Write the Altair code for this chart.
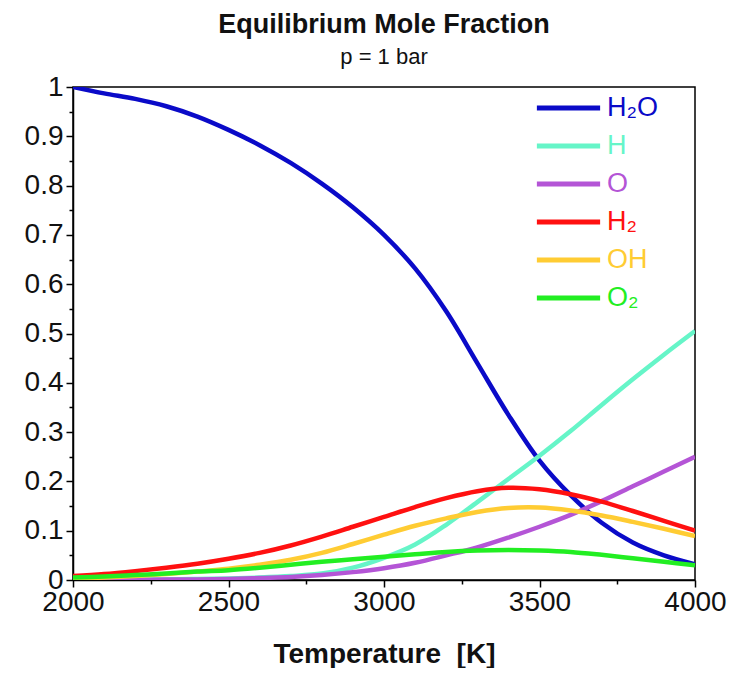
import altair as alt
import pandas as pd

temperature = [2000, 2100, 2200, 2300, 2400, 2500, 2600, 2700, 2800, 2900, 3000,
               3100, 3200, 3300, 3400, 3500, 3600, 3700, 3800, 3900, 4000]

h2o = [1.0, 0.987, 0.976, 0.961, 0.94, 0.913, 0.882, 0.846, 0.804, 0.756, 0.70,
       0.632, 0.545, 0.44, 0.335, 0.242, 0.172, 0.116, 0.076, 0.05, 0.032]
h = [0.0, 0.0, 0.001, 0.001, 0.002, 0.003, 0.005, 0.008, 0.013, 0.025, 0.045,
     0.072, 0.112, 0.158, 0.205, 0.252, 0.302, 0.355, 0.407, 0.457, 0.505]
o = [0.0, 0.0, 0.0, 0.001, 0.001, 0.002, 0.004, 0.006, 0.01, 0.016, 0.024,
     0.035, 0.05, 0.066, 0.086, 0.108, 0.132, 0.16, 0.19, 0.22, 0.25]
h2 = [0.008, 0.012, 0.018, 0.025, 0.033, 0.043, 0.055, 0.07, 0.088, 0.108, 0.128,
      0.148, 0.166, 0.18, 0.187, 0.184, 0.174, 0.159, 0.14, 0.12, 0.10]
oh = [0.003, 0.005, 0.008, 0.012, 0.017, 0.023, 0.031, 0.041, 0.055, 0.073, 0.092,
      0.11, 0.125, 0.138, 0.146, 0.147, 0.141, 0.131, 0.118, 0.104, 0.089]
o2 = [0.005, 0.007, 0.01, 0.013, 0.017, 0.02, 0.025, 0.031, 0.037, 0.042, 0.047,
      0.052, 0.057, 0.06, 0.061, 0.06, 0.057, 0.051, 0.044, 0.037, 0.03]

species = ["H\u2082O", "H", "O", "H\u2082", "OH", "O\u2082"]
colors = ["#0a0ac8", "#66f5c8", "#b455d6", "#ff1010", "#ffcc33", "#22ee22"]
series = [h2o, h, o, h2, oh, o2]

rows = []
for name, vals in zip(species, series):
    for t, v in zip(temperature, vals):
        rows.append({"T": t, "x": v, "species": name})
df = pd.DataFrame(rows)

y_ticks = [round(i * 0.05, 2) for i in range(21)]
x_ticks = [2000 + 250 * i for i in range(9)]

font = "Liberation Sans"
txt = "#111111"

chart = alt.Chart(df).mark_line(strokeWidth=4.5, interpolate="catmull-rom", clip=True).encode(
    x=alt.X("T:Q",
            scale=alt.Scale(domain=[2000, 4000], nice=False, zero=False),
            axis=alt.Axis(title="Temperature\u00a0\u00a0[K]", values=x_ticks,
                          labelExpr="datum.value % 500 == 0 ? datum.value : ''",
                          tickSize={"condition": {"test": "datum.value % 500 == 0", "value": 7}, "value": 4},
                          labelFlush=False, labelOverlap=False, grid=False,
                          labelFontSize=28, labelFont=font, labelColor=txt,
                          labelPadding=1,
                          titleFontSize=28, titleFont=font, titleFontWeight="bold",
                          titlePadding=24, titleColor=txt,
                          domainColor="black", domainWidth=1.5,
                          tickColor="black", tickWidth=1.5)),
    y=alt.Y("x:Q",
            scale=alt.Scale(domain=[0, 1], nice=False),
            axis=alt.Axis(title=None, values=y_ticks,
                          labelExpr="abs(datum.value*10 - round(datum.value*10)) < 0.001 ? format(datum.value, '~g') : ''",
                          tickSize={"condition": {"test": "abs(datum.value*10 - round(datum.value*10)) < 0.001", "value": 7}, "value": 4},
                          labelFlush=False, labelOverlap=False, grid=False,
                          labelFontSize=28, labelFont=font, labelColor=txt,
                          labelPadding=3,
                          domainColor="black", domainWidth=1.5,
                          tickColor="black", tickWidth=1.5)),
    color=alt.Color("species:N",
                    scale=alt.Scale(domain=species, range=colors),
                    sort=species,
                    legend=alt.Legend(title=None, orient="none", legendX=461, legendY=2,
                                      symbolType="stroke", symbolSize=4000,
                                      symbolStrokeWidth=5, clipHeight=38,
                                      rowPadding=0, labelFontSize=27, labelFont=font,
                                      labelOffset=4,
                                      labelColor=alt.ExprRef("scale('color', datum.value)"),
                                      fillColor="white", strokeColor="white", padding=0)),
).properties(
    width=622, height=493,
    title=alt.TitleParams("Equilibrium Mole Fraction", subtitle="p = 1 bar",
                          fontSize=27, font=font, fontWeight="bold", color=txt,
                          subtitleFontSize=22, subtitleFont=font, subtitleColor=txt,
                          subtitlePadding=8, anchor="middle", offset=4),
    padding={"left": 16, "top": 3, "right": 5, "bottom": 0},
).configure_view(stroke="black", strokeWidth=1.5)

chart.save("out.html", embed_options={"renderer": "svg", "actions": False})
